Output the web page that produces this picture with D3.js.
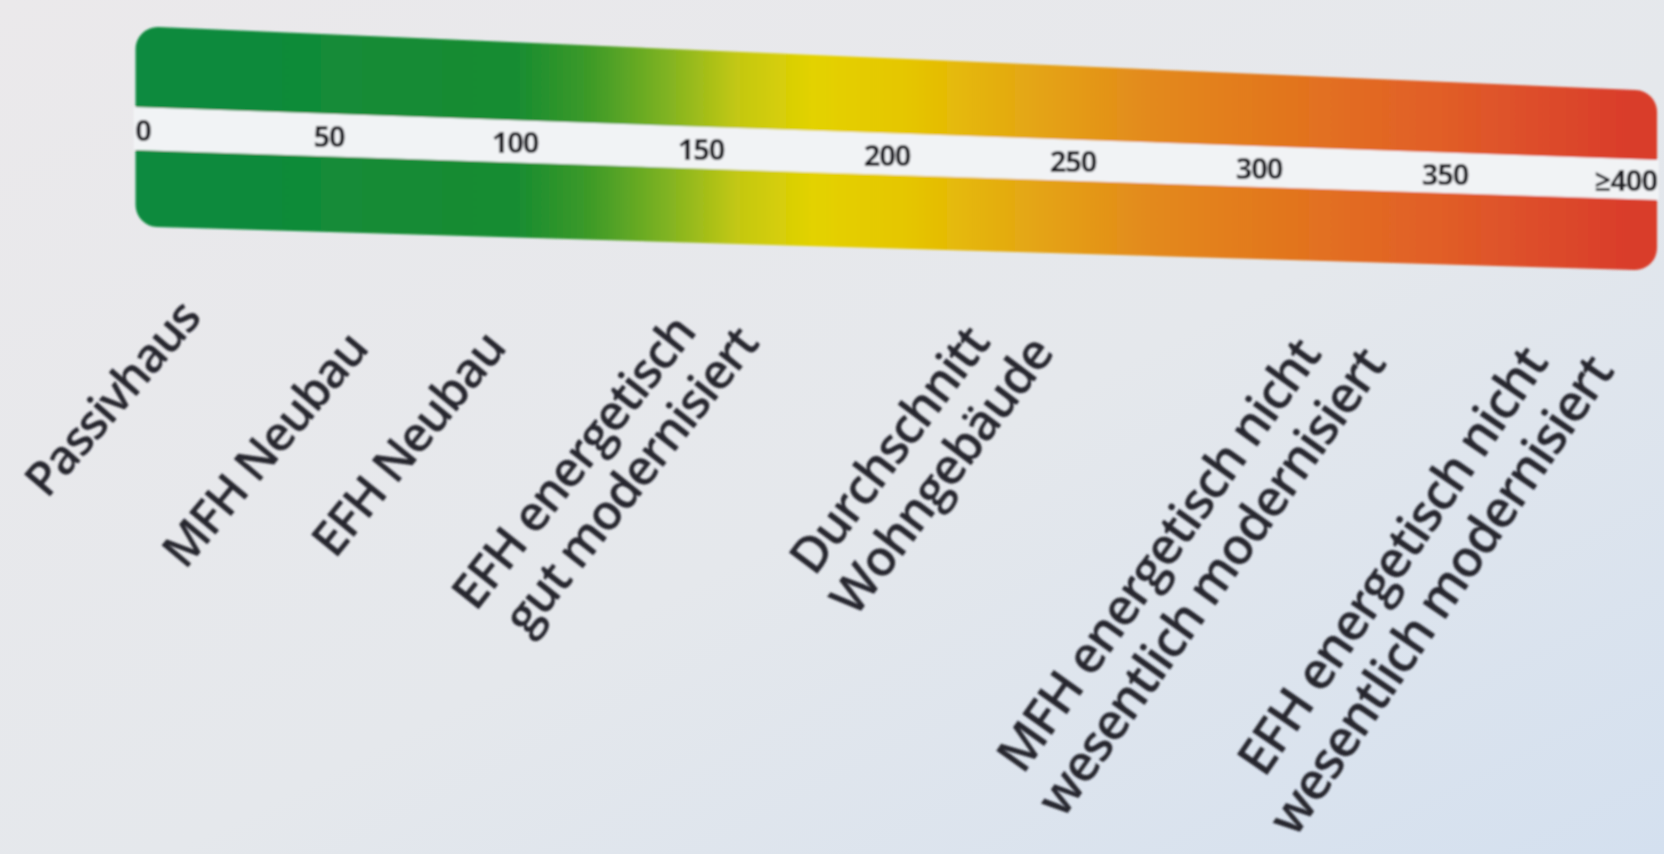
<!DOCTYPE html>
<html>
<head>
<meta charset="utf-8">
<script src="https://cdn.jsdelivr.net/npm/d3@7"></script>
<style>
  html, body { margin: 0; padding: 0; overflow: hidden; }
  body { width: 1664px; height: 854px; }
</style>
</head>
<body>
<div id="chart"></div>
<script>
// scale values (kWh/m²a)
var tickValues = [0, 50, 100, 150, 200, 250, 300, 350, 400];
var tickLabels = ["0", "50", "100", "150", "200", "250", "300", "350", "\u2265400"];

// colour ramp along the scale
var stopValues = [0, 100, 120, 140, 160, 180, 205, 235, 270, 310, 350, 400];
var stopColors = ["#0d8a3f", "#178c31", "#3d9a28", "#7db222", "#c4c812", "#e3d200",
                  "#e5c600", "#e4a912", "#e38a1c", "#e2741f", "#e15d28", "#d93c2c"];

// building types and their position on the scale
var buildingLines = [
  ["Passivhaus"],
  ["MFH Neubau"],
  ["EFH Neubau"],
  ["EFH energetisch", "gut modernisiert"],
  ["Durchschnitt", "Wohngeb\u00e4ude"],
  ["MFH energetisch nicht", "wesentlich modernisiert"],
  ["EFH energetisch nicht", "wesentlich modernisiert"]
];
var buildingValues = [16, 61, 98, 149, 228, 317, 378];

var w = 1664;
var h = 854;
var barStart = -2;
var barEnd = 407;
var r = 22;

var svg = d3.select("#chart")
  .append("svg")
  .attr("width", w)
  .attr("height", h);

var defs = svg.append("defs");

// paper background
var bg = defs.append("linearGradient")
  .attr("id", "paper")
  .attr("x1", "0%").attr("y1", "0%")
  .attr("x2", "100%").attr("y2", "100%");
bg.append("stop").attr("offset", "0%").attr("stop-color", "#ebe9eb");
bg.append("stop").attr("offset", "55%").attr("stop-color", "#e5e8ec");
bg.append("stop").attr("offset", "100%").attr("stop-color", "#d4e0ef");

svg.append("rect")
  .attr("width", w)
  .attr("height", h)
  .attr("fill", "url(#paper)");

var x = d3.scaleLinear()
  .domain([0, 400])
  .range([143, 1631]);

// the photo is taken at a slight angle: edges drift down to the right,
// lettering grows and steepens towards the right
var topEdge = d3.scaleLinear().domain([barStart, barEnd]).range([27, 90]);
var gapTop = d3.scaleLinear().domain([barStart, barEnd]).range([107, 160]);
var gapBottom = d3.scaleLinear().domain([barStart, barEnd]).range([150, 200]);
var bottomEdge = d3.scaleLinear().domain([barStart, barEnd]).range([227, 270]);
var labelBase = d3.scaleLinear().domain([16, 61, 98, 149, 400]).range([319, 350, 349, 333, 366]);
var labelAngle = d3.scaleLinear().domain([0, 400]).range([-49, -56]);
var labelSize = d3.scaleLinear().domain([0, 400]).range([47.5, 51.5]);

var ramp = defs.append("linearGradient")
  .attr("id", "ramp")
  .attr("gradientUnits", "userSpaceOnUse")
  .attr("x1", x(0)).attr("x2", x(400))
  .attr("y1", 0).attr("y2", 0);

ramp.selectAll("stop")
  .data(stopValues)
  .enter()
  .append("stop")
  .attr("offset", function(d) { return d / 400; })
  .attr("stop-color", function(d, i) { return stopColors[i]; });

defs.append("filter")
  .attr("id", "soft")
  .append("feGaussianBlur")
  .attr("stdDeviation", 0.9);

var g = svg.append("g").attr("filter", "url(#soft)");

// bar outline, inset by the corner radius and stroked with round joins
var outline = [
  [x(barStart) + r, topEdge(barStart) + r],
  [x(barEnd) - r, topEdge(barEnd) + r],
  [x(barEnd) - r, bottomEdge(barEnd) - r],
  [x(barStart) + r, bottomEdge(barStart) - r]
];

g.append("path")
  .attr("d", d3.line()(outline) + "Z")
  .attr("fill", "url(#ramp)")
  .attr("stroke", "url(#ramp)")
  .attr("stroke-width", 2 * r)
  .attr("stroke-linejoin", "round");

var gapArea = d3.area()
  .x(function(d) { return x(d); })
  .y0(function(d) { return gapTop(d); })
  .y1(function(d) { return gapBottom(d); });

g.append("path")
  .datum([barStart - 0.5, barEnd + 0.5])
  .attr("d", gapArea)
  .attr("fill", "#f1f3f5");

var last = tickValues.length - 1;
g.selectAll(".tick")
  .data(tickValues)
  .enter()
  .append("text")
  .attr("class", "tick")
  .attr("x", function(d, i) { return i === last ? x(barEnd) : x(d); })
  .attr("y", function(d) { return (gapTop(d) + gapBottom(d)) / 2 + 12; })
  .attr("text-anchor", function(d, i) { return i === last ? "end" : "middle"; })
  .attr("font-family", "'Open Sans', sans-serif")
  .attr("font-weight", 700)
  .attr("font-size", "29px")
  .attr("letter-spacing", "-1px")
  .attr("fill", "#1c1c24")
  .text(function(d, i) { return tickLabels[i]; });

// rotated building labels, one text per line
var labels = g.selectAll(".label")
  .data(buildingLines)
  .enter()
  .append("g")
  .attr("class", "label")
  .attr("transform", function(d, i) {
    var v = buildingValues[i];
    return "translate(" + x(v) + "," + labelBase(v) + ") rotate(" + labelAngle(v) + ")";
  });

labels.selectAll("text")
  .data(function(d, i) {
    return d.map(function(t) { return { text: t, value: buildingValues[i] }; });
  })
  .enter()
  .append("text")
  .attr("x", function(d, j) { return j * 30; })
  .attr("y", function(d, j) { return j * 1.15 * labelSize(d.value); })
  .attr("text-anchor", "end")
  .attr("font-family", "'Open Sans', sans-serif")
  .attr("font-weight", 600)
  .attr("font-size", function(d) { return labelSize(d.value) + "px"; })
  .attr("letter-spacing", "-1.5px")
  .attr("fill", "#25252d")
  .text(function(d) { return d.text; });
</script>
</body>
</html>
